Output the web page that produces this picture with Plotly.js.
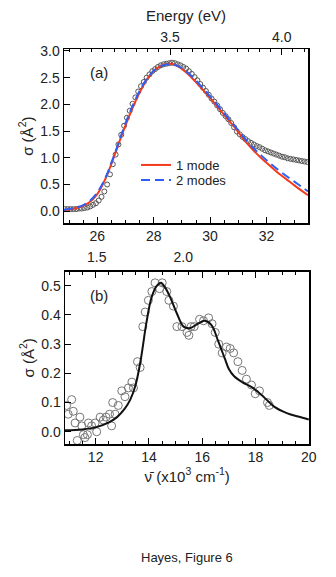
<!DOCTYPE html>
<html>
<head>
<meta charset="utf-8">
<script src="https://cdn.plot.ly/plotly-3.0.1.min.js"></script>
<style>
  html, body { margin: 0; padding: 0; background: #fff; }
  #chart { width: 336px; height: 577px; }
</style>
</head>
<body>
<div id="chart"></div>
<script>
// panel (a): measured cross section, x in 10^3 cm^-1
const dataAX = [24.85, 24.95, 25.05, 25.15, 25.25, 25.35, 25.45, 25.55, 25.65, 25.75,
  25.85, 25.95, 26.05, 26.15, 26.25, 26.35, 26.45, 26.55, 26.65, 26.75,
  26.85, 26.95, 27.05, 27.15, 27.25, 27.35, 27.45, 27.55, 27.65, 27.75,
  27.85, 27.95, 28.05, 28.15, 28.25, 28.35, 28.45, 28.55, 28.65, 28.75,
  28.85, 28.95, 29.05, 29.15, 29.25, 29.35, 29.45, 29.55, 29.65, 29.75,
  29.85, 29.95, 30.05, 30.15, 30.25, 30.35, 30.45, 30.55, 30.65, 30.75,
  30.85, 30.95, 31.05, 31.15, 31.25, 31.35, 31.45, 31.55, 31.65, 31.75,
  31.85, 31.95, 32.05, 32.15, 32.25, 32.35, 32.45, 32.55, 32.65, 32.75,
  32.85, 32.95, 33.05, 33.15, 33.25, 33.35, 33.45];
const dataAY = [0.04, 0.04, 0.04, 0.04, 0.04, 0.05, 0.05, 0.06, 0.07, 0.09,
  0.12, 0.15, 0.20, 0.27, 0.37, 0.50, 0.69, 0.88, 1.06, 1.25,
  1.43, 1.60, 1.75, 1.88, 2.01, 2.13, 2.24, 2.34, 2.42, 2.50,
  2.56, 2.62, 2.66, 2.70, 2.73, 2.75, 2.76, 2.77, 2.78, 2.77,
  2.75, 2.73, 2.70, 2.67, 2.62, 2.57, 2.51, 2.45, 2.38, 2.31,
  2.25, 2.18, 2.11, 2.05, 1.98, 1.91, 1.84, 1.78, 1.72, 1.65,
  1.57, 1.49, 1.44, 1.39, 1.35, 1.31, 1.28, 1.25, 1.22, 1.20,
  1.17, 1.14, 1.12, 1.10, 1.08, 1.06, 1.04, 1.02, 1.01, 0.99,
  0.98, 0.97, 0.96, 0.95, 0.94, 0.93, 0.92];

// fits
const fitX = [24.82, 25.1, 25.4, 25.7, 26.0, 26.3, 26.6, 26.9, 27.2, 27.5,
  27.8, 28.1, 28.4, 28.6, 28.8, 29.1, 29.4, 29.7, 30.0, 30.3,
  30.6, 30.9, 31.2, 31.5, 31.8, 32.1, 32.4, 32.7, 33.0, 33.47];
const oneModeY = [0.02, 0.04, 0.08, 0.16, 0.32, 0.62, 1.03, 1.47, 1.87, 2.22,
  2.50, 2.67, 2.75, 2.76, 2.73, 2.62, 2.47, 2.30, 2.12, 1.93,
  1.74, 1.55, 1.34, 1.16, 1.00, 0.86, 0.72, 0.60, 0.48, 0.30];
const twoModeY = [0.03, 0.05, 0.09, 0.18, 0.35, 0.64, 1.05, 1.50, 1.91, 2.25,
  2.51, 2.67, 2.74, 2.75, 2.73, 2.64, 2.50, 2.33, 2.15, 1.96,
  1.77, 1.58, 1.38, 1.20, 1.05, 0.91, 0.78, 0.66, 0.55, 0.37];

// panel (b)
const dataBX = [10.91, 10.97, 11.10, 11.16, 11.23, 11.31, 11.41, 11.48, 11.54, 11.60,
  11.69, 11.73, 11.85, 11.98, 12.04, 12.17, 12.29, 12.39, 12.52, 12.60,
  12.64, 12.73, 12.85, 12.98, 13.10, 13.23, 13.36, 13.42, 13.57, 13.67,
  13.77, 13.86, 13.98, 14.11, 14.23, 14.40, 14.50, 14.67, 14.75, 14.92,
  15.05, 15.24, 15.43, 15.50, 15.58, 15.70, 15.90, 16.05, 16.24, 16.37,
  16.49, 16.62, 16.75, 16.91, 17.05, 17.18, 17.34, 17.50, 17.66, 17.85,
  17.99, 18.15, 18.45, 18.52];
const dataBY = [0.09, 0.06, 0.11, 0.07, 0.03, -0.03, 0.05, 0.02, -0.01, -0.02,
  -0.01, 0.03, 0.02, 0.03, 0.00, 0.05, 0.04, 0.05, 0.06, 0.02,
  0.10, 0.06, 0.09, 0.14, 0.12, 0.15, 0.17, 0.15, 0.24, 0.22,
  0.36, 0.41, 0.45, 0.48, 0.51, 0.49, 0.51, 0.48, 0.45, 0.43,
  0.36, 0.36, 0.34, 0.33, 0.36, 0.36, 0.385, 0.38, 0.39, 0.37,
  0.34, 0.30, 0.27, 0.29, 0.285, 0.27, 0.24, 0.21, 0.18, 0.16,
  0.13, 0.14, 0.10, 0.09];
const fitBX = [10.85, 11.5, 12.0, 12.5, 12.8, 13.1, 13.3, 13.5, 13.7, 13.9,
  14.1, 14.3, 14.45, 14.6, 14.8, 15.05, 15.3, 15.55, 15.8, 16.1,
  16.35, 16.6, 16.85, 17.0, 17.2, 17.5, 17.9, 18.3, 18.7, 19.2,
  19.6, 20.0];
const fitBY = [0.005, 0.008, 0.015, 0.032, 0.05, 0.08, 0.11, 0.16, 0.25, 0.37,
  0.46, 0.50, 0.51, 0.495, 0.46, 0.405, 0.36, 0.355, 0.368, 0.38,
  0.365, 0.31, 0.25, 0.215, 0.19, 0.17, 0.15, 0.12, 0.086, 0.063,
  0.052, 0.042];

// top energy axes (eV)
const energyTicksA = [3.5, 4.0];
const energyTicksB = [1.5, 2.0];

const FONT = 'Liberation Sans, Arial, sans-serif';
const W = 336, H = 577;
// pixel -> paper helpers
const px = v => v / W;
const py = v => 1 - v / H;

const traces = [
  {
    x: dataAX, y: dataAY, xaxis: 'x', yaxis: 'y',
    mode: 'markers', type: 'scatter', showlegend: false,
    marker: { symbol: 'circle-open', size: 5, color: '#555', line: { width: 1 } }
  },
  {
    x: fitX, y: oneModeY, xaxis: 'x', yaxis: 'y',
    mode: 'lines', type: 'scatter', name: '1 mode', legend: 'legend',
    line: { color: '#f23a1d', width: 2, shape: 'spline' }
  },
  {
    x: fitX, y: twoModeY, xaxis: 'x', yaxis: 'y',
    mode: 'lines', type: 'scatter', name: '2 modes', legend: 'legend2',
    line: { color: '#2f5ff2', width: 2, dash: '9px,5px', shape: 'spline' }
  },
  {
    x: dataBX, y: dataBY, xaxis: 'x3', yaxis: 'y2',
    mode: 'markers', type: 'scatter', showlegend: false,
    marker: { symbol: 'circle-open', size: 8, color: '#777', line: { width: 1 } }
  },
  {
    x: fitBX, y: fitBY, xaxis: 'x3', yaxis: 'y2',
    mode: 'lines', type: 'scatter', showlegend: false,
    line: { color: '#111', width: 2, shape: 'spline' }
  },
  // empty traces so the overlaid energy axes get drawn
  { x: energyTicksA, y: [null, null], xaxis: 'x2', yaxis: 'y', mode: 'markers', showlegend: false, hoverinfo: 'skip' },
  { x: energyTicksB, y: [null, null], xaxis: 'x4', yaxis: 'y2', mode: 'markers', showlegend: false, hoverinfo: 'skip' }
];

const axisCommon = {
  showline: true, linecolor: '#000', linewidth: 1.5,
  ticks: 'inside', ticklen: 6, tickwidth: 1, tickcolor: '#000',
  showgrid: false, zeroline: false,
  tickfont: { family: FONT, size: 14, color: '#222' }
};

const legendCommon = {
  xanchor: 'left', yanchor: 'middle',
  bgcolor: 'rgba(0,0,0,0)', font: { family: FONT, size: 13, color: '#222' }
};

const layout = {
  width: W, height: H,
  margin: { l: 0, r: 0, t: 0, b: 0 },
  paper_bgcolor: '#fff', plot_bgcolor: '#fff',
  font: { family: FONT, color: '#222' },
  showlegend: true,
  legend: Object.assign({ x: px(136), y: py(165) }, legendCommon),
  legend2: Object.assign({ x: px(136), y: py(180) }, legendCommon),
  xaxis: Object.assign({}, axisCommon, {
    domain: [px(64), px(308)], anchor: 'y', range: [24.82, 33.47],
    tick0: 0, dtick: 2, mirror: true,
    minor: { dtick: 0.5, ticks: 'inside', ticklen: 3, tickcolor: '#000' }
  }),
  xaxis2: Object.assign({}, axisCommon, {
    overlaying: 'x', anchor: 'y', side: 'top', range: [3.0255, 4.1177],
    tick0: 0, dtick: 0.5, tickformat: '.1f',
    minor: { dtick: 0.05, ticks: 'inside', ticklen: 3, tickcolor: '#000' },
    title: { text: 'Energy (eV)', font: { family: FONT, size: 15, color: '#222' }, standoff: 4 }
  }),
  yaxis: Object.assign({}, axisCommon, {
    domain: [py(223), py(49.3)], anchor: 'x', range: [-0.22, 3.03],
    tick0: 0, dtick: 0.5, tickformat: '.1f', mirror: true,
    title: { text: 'σ (Å<sup>2</sup>)', font: { family: FONT, size: 15, color: '#222' }, standoff: 3 }
  }),
  xaxis3: Object.assign({}, axisCommon, {
    domain: [px(65), px(309.3)], anchor: 'y2', range: [10.85, 20.02],
    tick0: 0, dtick: 2, mirror: 'allticks',
    minor: { dtick: 0.5, ticks: 'inside', ticklen: 3, tickcolor: '#000' },
    title: { text: 'ν̄ (x10<sup>3</sup> cm<sup>-1</sup>)', font: { family: FONT, size: 15, color: '#222' }, standoff: 2 }
  }),
  xaxis4: Object.assign({}, axisCommon, {
    overlaying: 'x3', anchor: 'y2', side: 'top', range: [1.317, 2.7275],
    tickmode: 'array', tickvals: energyTicksB, tickformat: '.1f', ticks: '', showline: false,
    ticklabelstandoff: 6
  }),
  yaxis2: Object.assign({}, axisCommon, {
    domain: [py(444), py(271.7)], anchor: 'x3', range: [-0.042, 0.548],
    tick0: 0, dtick: 0.1, tickformat: '.1f', mirror: true,
    title: { text: 'σ (Å<sup>2</sup>)', font: { family: FONT, size: 15, color: '#222' }, standoff: 3 }
  }),
  annotations: [
    { text: '(a)', xref: 'paper', yref: 'paper', x: px(88), y: py(72), xanchor: 'left', yanchor: 'middle',
      showarrow: false, font: { family: FONT, size: 15, color: '#222' } },
    { text: '(b)', xref: 'paper', yref: 'paper', x: px(88), y: py(295), xanchor: 'left', yanchor: 'middle',
      showarrow: false, font: { family: FONT, size: 15, color: '#222' } },
    { text: 'Hayes, Figure 6', xref: 'paper', yref: 'paper', x: px(187), y: py(557), xanchor: 'center', yanchor: 'middle',
      showarrow: false, font: { family: FONT, size: 13, color: '#222' } }
  ]
};

Plotly.newPlot('chart', traces, layout, { staticPlot: true, displayModeBar: false });
</script>
</body>
</html>
